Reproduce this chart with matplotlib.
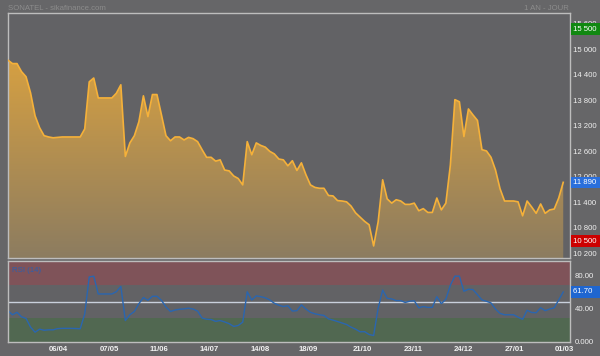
import matplotlib
matplotlib.use('agg')
import matplotlib.pyplot as plt
import matplotlib.transforms as mtransforms
import numpy as np

plt.rcParams['font.family'] = ['Liberation Sans', 'DejaVu Sans']

# closing prices, one value every two sessions
close = [14770, 14690, 14690, 14500, 14380, 14000, 13460, 13180, 12990, 12960,
         12940, 12950, 12960, 12960, 12960, 12960, 12960, 13150, 14260, 14350,
         13880, 13880, 13880, 13880, 13990, 14190, 12500, 12820, 12990, 13320,
         13930, 13440, 13960, 13960, 13480, 12990, 12870, 12960, 12960, 12890,
         12950, 12920, 12850, 12660, 12480, 12480, 12390, 12420, 12180, 12160,
         12040, 11980, 11830, 12850, 12540, 12820, 12760, 12720, 12620, 12560,
         12440, 12420, 12280, 12400, 12170, 12350, 12070, 11830, 11770, 11750,
         11750, 11580, 11570, 11460, 11450, 11430, 11330, 11170, 11070, 10970,
         10890, 10390, 10960, 11950, 11500, 11400, 11480, 11450, 11370, 11370,
         11400, 11220, 11270, 11180, 11180, 11520, 11240, 11400, 12300, 13840,
         13790, 12970, 13620, 13480, 13350, 12660, 12630, 12480, 12180, 11740,
         11450, 11450, 11450, 11430, 11100, 11450, 11310, 11160, 11380, 11160,
         11240, 11260, 11520, 11890]

rsi = [38.9, 34, 37, 31.5, 29.5, 19, 12.8, 16.5, 15.2, 15.7,
       15.7, 17.2, 17.5, 17.5, 17.5, 17.3, 17, 35, 80, 80.9,
       59.3, 59.3, 59.3, 59.3, 62, 68.5, 27, 34, 38, 47.5,
       55, 51.5, 56.5, 56.5, 51.5, 43.5, 38, 39.8, 40.7, 41.2,
       42, 41, 38.5, 30, 28.6, 28.2, 26, 27, 25.3, 23.2,
       19.8, 21, 25, 62, 52, 57, 56, 54.6, 52, 48,
       45.6, 44, 45, 38.5, 39, 46, 41, 37, 35.2, 34,
       33.2, 29, 27.5, 25.8, 24, 22.2, 19, 16.5, 13.3, 13.5,
       10, 8.8, 42, 64, 54, 53.3, 51.2, 51.2, 49, 50.5,
       51, 42.5, 44, 43, 43, 56, 47.5, 53, 70, 81,
       80.9, 62.6, 65, 64.6, 58.5, 52, 50.4, 48.4, 41, 35.7,
       34, 34, 34, 31, 28.5, 39.5, 36.8, 36.5, 42.5, 39,
       41, 42.5, 52, 61.7]

date_labels = ['06/04', '07/05', '11/06', '14/07', '14/08', '18/09',
               '21/10', '23/11', '24/12', '27/01', '01/03']
date_pos = [11.1, 22.4, 33.5, 44.6, 55.9, 66.4, 78.6, 89.7, 100.8, 112.1, 123.2]

price_ticks = [10200, 10800, 11400, 12000, 12600, 13200, 13800, 14400, 15000, 15600]
rsi_ticks = [0, 40, 80]

badges = [(15500, '15 500', '#118811'), (11890, '11 890', '#2a6fdc'),
          (10500, '10 500', '#cc0000')]
rsi_badge = (61.7, '61.70', '#1f66d0')

BG = '#666668'
PANEL = '#626265'
EDGE = '#bdbdbd'
FS = 5.6

x = np.arange(len(close))

fig = plt.figure(figsize=(6, 3.56), dpi=100, facecolor=BG)
ax = fig.add_axes([0.0133, 0.2753, 0.9367, 0.6882])
ax2 = fig.add_axes([0.0133, 0.0407, 0.9367, 0.2262])

for a in (ax, ax2):
    a.set_facecolor(PANEL)
    for s in a.spines.values():
        s.set_color(EDGE)
        s.set_linewidth(1.0)
    a.set_xlim(0, 124.5)
    a.set_xticks([])
    a.set_yticks([])

# price panel with gradient fill
ax.set_ylim(10106, 15883)
poly = ax.fill_between(x, close, 10106, color='none', lw=0)
grad = np.linspace(0, 1, 256).reshape(-1, 1)
top_c = np.array([214, 160, 66]) / 255
bot_c = np.array([140, 124, 96]) / 255
img = top_c * (1 - grad[..., None]) + bot_c * grad[..., None]
im = ax.imshow(img, extent=[0, 124.5, 10106, 14800], aspect='auto',
               origin='upper', zorder=1)
im.set_clip_path(poly.get_paths()[0], transform=ax.transData)
ax.plot(x, close, color='#f5b13a', lw=1.2, zorder=3)

tr = mtransforms.blended_transform_factory(ax.transAxes, ax.transData)
for v in price_ticks:
    ax.text(1.006, v, '{:,}'.format(v).replace(',', ' '), transform=tr,
            color='#f0f0f0', fontsize=FS, va='center', ha='left', clip_on=False)
for v, txt, c in badges:
    ax.text(1.006, v, txt + '  ', transform=tr, color='white', fontsize=FS,
            va='center', ha='left', clip_on=False, zorder=5,
            bbox=dict(boxstyle='square,pad=0.3', fc=c, ec='none'))

# RSI panel
ax2.set_ylim(1.5, 99.4)
ax2.axhspan(70, 100, color='#8a4e55', alpha=0.75, lw=0)
ax2.axhspan(0, 30, color='#4e6a4e', alpha=0.85, lw=0)
ax2.axhline(50, color='#c9d0dc', lw=1.0)
ax2.plot(x, rsi, color='#2a66b0', lw=1.0)
ax2.text(0.008, 0.93, 'RSI (14)', transform=ax2.transAxes, color='#2c5fae',
         fontsize=FS, va='top', ha='left')

tr2 = mtransforms.blended_transform_factory(ax2.transAxes, ax2.transData)
for v in rsi_ticks:
    ax2.text(1.008, v, '0.000' if v == 0 else '{:.2f}'.format(v), transform=tr2,
             color='#f0f0f0', fontsize=FS, va='center', ha='left', clip_on=False)
v, txt, c = rsi_badge
ax2.text(1.006, v, txt + '      ', transform=tr2, color='white', fontsize=FS,
         va='center', ha='left', clip_on=False,
         bbox=dict(boxstyle='square,pad=0.3', fc=c, ec='none'))

trx = mtransforms.blended_transform_factory(ax2.transData, fig.transFigure)
for p, lab in zip(date_pos, date_labels):
    ax2.text(p, 0.017, lab, transform=trx, color='#f2f2f2', fontsize=FS,
             fontweight='bold', ha='center', va='center', clip_on=False)

fig.text(0.013, 0.985, 'SONATEL - sikafinance.com', color='#8c8c8c',
         fontsize=FS, ha='left', va='top')
fig.text(0.948, 0.985, '1 AN - JOUR', color='#8c8c8c', fontsize=FS,
         ha='right', va='top')

fig.savefig('out.png', dpi=100, facecolor=BG)
